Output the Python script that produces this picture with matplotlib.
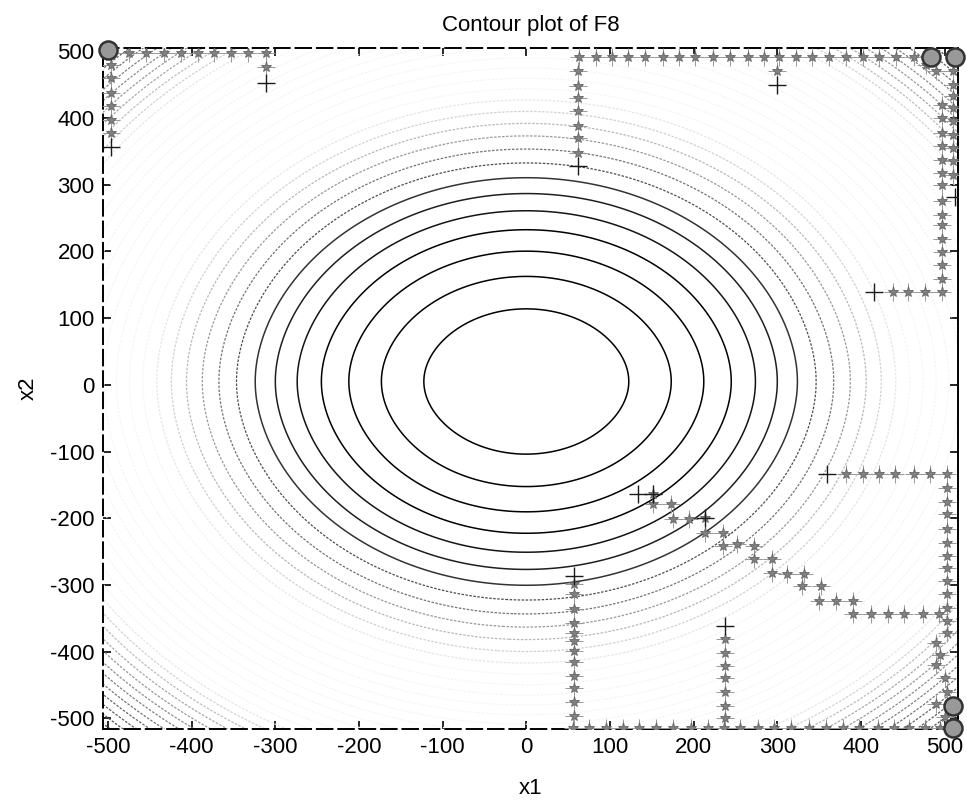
import numpy as np
import matplotlib
matplotlib.use("Agg")
import matplotlib.pyplot as plt

plt.rcParams['font.family'] = ['Liberation Sans', 'DejaVu Sans']
plt.rcParams['axes.unicode_minus'] = False

# bowl used for the contour rings (spacing read from the ring radii)
level_step = 15000
n_levels = 36
y_shift = 5
y_bend = 45
y_soft = 50

# gray of each ring, inner -> outer (jet printed in gray)
level_grays = [0.0, 0.0, 0.0, 0.0, 0.08, 0.12, 0.2, 0.3, 0.45, 0.6, 0.72, 0.82,
               0.9, 0.96, 0.96, 0.96, 0.96, 0.96, 0.96, 0.96, 0.96, 0.96, 0.96, 0.96,
               0.9, 0.82, 0.74, 0.66, 0.6, 0.55, 0.5, 0.45, 0.4, 0.36, 0.32, 0.3]

# search points
path_top_left = [(-496, 498), (-475, 498), (-455, 498), (-433, 498), (-413, 498),
                 (-393, 498), (-373, 498), (-353, 498), (-333, 498), (-311, 498),
                 (-311, 476)]
path_left = [(-497, 480), (-497, 460), (-497, 438), (-497, 418), (-497, 397), (-497, 378)]
path_top_mid = [(62, 470), (62, 448), (62, 430), (62, 410), (62, 388), (62, 370), (62, 348)]
path_top_row = [(63, 492), (83, 492), (103, 492), (122, 492), (142, 492), (163, 492),
                (182, 492), (202, 492), (223, 492), (244, 492), (265, 492), (284, 492),
                (302, 492), (322, 492), (342, 492), (362, 492), (382, 492), (402, 492),
                (422, 492), (442, 492), (463, 492), (300, 470)]
path_right_upper = [(497, 419), (497, 400), (497, 378), (497, 358), (497, 337), (497, 318),
                    (497, 299), (497, 276), (497, 255), (497, 239), (497, 218), (497, 199),
                    (497, 179), (497, 158), (497, 139),
                    (510, 470), (510, 449), (510, 433), (510, 415), (510, 396), (510, 375),
                    (510, 355), (510, 336), (510, 315), (490, 470), (478, 480)]
path_row_139 = [(438, 139), (456, 139), (477, 139)]
path_stairs = [(152, -163), (152, -178), (173, -179), (175, -201), (194, -201), (214, -200),
               (214, -222), (235, -222), (235, -242), (252, -239), (272, -242), (272, -261),
               (294, -261), (294, -282), (312, -284), (332, -284), (330, -301), (352, -301),
               (350, -324), (370, -324), (391, -324), (391, -343), (412, -343), (432, -343),
               (451, -343), (474, -343), (493, -343)]
path_row_m134 = [(382, -134), (402, -134), (422, -134), (441, -134), (463, -134),
                 (483, -134), (503, -134)]
path_right_lower = [(503, -155), (503, -175), (503, -194), (503, -216), (503, -237),
                    (503, -257), (503, -275), (503, -294), (503, -313), (503, -334),
                    (503, -354), (503, -372), (490, -387), (495, -405), (490, -420),
                    (500, -440), (503, -460), (490, -478), (500, -498)]
path_col_57 = [(57, -299), (57, -313), (57, -336), (57, -357), (57, -372), (57, -384),
               (57, -399), (57, -416), (57, -436), (57, -455), (57, -476), (57, -496)]
path_col_238 = [(238, -381), (238, -402), (238, -421), (238, -440), (238, -461),
                (238, -481), (238, -499)]
path_bottom_row = [(56, -515), (75, -515), (95, -515), (115, -515), (135, -515),
                   (155, -515), (175, -515), (197, -515), (217, -515), (236, -515),
                   (256, -515), (277, -515), (296, -515), (316, -515), (338, -515),
                   (358, -515), (378, -515), (398, -515), (420, -515), (439, -515),
                   (457, -515), (477, -515), (495, -515)]
plus_points = [(-311, 453), (-497, 357), (62, 328), (300, 449), (512, 281), (415, 139),
               (133, -163), (152, -163), (214, -200), (360, -134), (57, -287), (238, -361)]
circle_points = [(-500, 502), (484, 492), (512, 492), (510, -482), (510, -515)]

paths = [path_top_left, path_left, path_top_mid, path_top_row, path_right_upper,
         path_row_139, path_stairs, path_row_m134, path_right_lower, path_col_57,
         path_col_238, path_bottom_row]

fig = plt.figure(figsize=(9.67, 8.05), dpi=100)
ax = fig.add_axes([0.1065, 0.0944, 0.8842, 0.846])

gx = np.linspace(-530, 530, 500)
gy = np.linspace(-530, 530, 500)
X, Y = np.meshgrid(gx, gy)
Yc = Y - y_shift
F = X ** 2 + Yc ** 2 + y_bend * (np.sqrt(Yc ** 2 + y_soft ** 2) - y_soft)

levels = [level_step * (k + 1) for k in range(n_levels)]
colors = [str(g) for g in level_grays]
styles = ['solid' if g < 0.25 else (0, (2.0, 1.2)) for g in level_grays]
widths = [1.1 if g < 0.25 else 0.9 for g in level_grays]
ax.contour(X, Y, F, levels=levels, colors=colors, linestyles=styles, linewidths=widths)

for p in paths:
    px = [q[0] for q in p]
    py = [q[1] for q in p]
    ax.plot(px, py, ls='none', marker='+', ms=13, mew=0.7, color='0.6', zorder=3)
    ax.plot(px, py, ls='none', marker='*', ms=8, mew=0.6, color='0.5', mec='0.4', zorder=4)

ax.plot([q[0] for q in plus_points], [q[1] for q in plus_points], ls='none',
        marker='+', ms=13, mew=1.0, color='0.1', zorder=5)
ax.plot([q[0] for q in circle_points], [q[1] for q in circle_points], ls='none',
        marker='o', ms=13, mfc='0.6', mec='0.2', mew=1.8, zorder=6, clip_on=False)

ax.set_xlim(-506, 516)
ax.set_ylim(-516, 505)
ticks = [-500, -400, -300, -200, -100, 0, 100, 200, 300, 400, 500]
ax.set_xticks(ticks)
ax.set_yticks(ticks)
ax.tick_params(direction='in', length=6, width=1.2, labelsize=16, top=True, right=True,
               pad=6)
for side in ['top', 'left', 'bottom']:
    ax.spines[side].set_linestyle((0, (8, 3)))
for side in ax.spines:
    ax.spines[side].set_linewidth(1.4)

ax.set_title('Contour plot of F8', fontsize=16, pad=12)
ax.set_xlabel('x1', fontsize=16, labelpad=14)
ax.set_ylabel('x2', fontsize=16, labelpad=8)

fig.savefig('out.png', dpi=100)
